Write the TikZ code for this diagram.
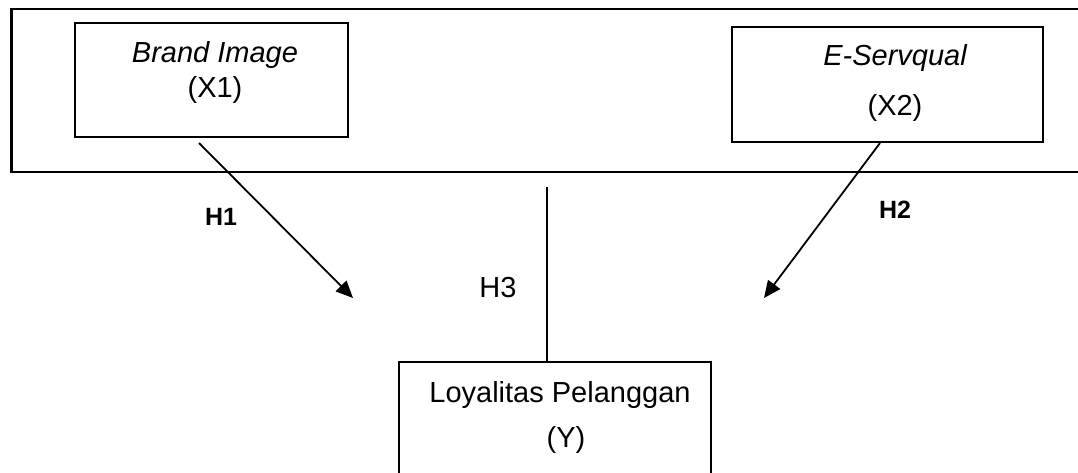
\documentclass[tikz,border=0pt]{standalone}
\usepackage{fontspec}
\setmainfont{Liberation Sans}
\usetikzlibrary{arrows.meta}
\begin{document}
\begin{tikzpicture}[x=1pt,y=-1pt,
  varbox/.style={draw,line width=2pt,inner sep=0pt,
    minimum width=#1},
  lbl/.style={font=\fontsize{29}{35}\selectfont,anchor=base,inner sep=0pt},
  hyp/.style={font=\fontsize{25}{30}\selectfont\bfseries,inner sep=0pt},
  link/.style={line width=1.8pt},
  arr/.style={link,-{Triangle[length=17pt,width=15pt]}}]
\useasboundingbox (0,0) rectangle (1078,472);
\clip (0,0) rectangle (1078,472);

% frame around the independent variables
\draw[line width=2.4pt] (11.5,9) rectangle (1120,172);

% variable boxes
\node[varbox=273pt,minimum height=114pt] (bi) at (211.5,80) {};
\node[varbox=311pt,minimum height=115pt] (es) at (887.5,84.5) {};
\node[varbox=312pt,minimum height=158pt] (ly) at (555,441) {};

% box texts
\node[lbl] (biname) at (215,62) {\itshape Brand Image};
\node[lbl] (bicode) at (215,97) {(X1)};
\node[lbl] (esname) at (895,65) {\itshape E-Servqual};
\node[lbl] (escode) at (895,115) {(X2)};
\node[lbl] (lyname) at (560,402) {Loyalitas Pelanggan};
\node[lbl] (lycode) at (566,447) {(Y)};

% hypothesis paths
\coordinate (h1s) at (199,143);
\coordinate (h1e) at (353,298);
\coordinate (h2s) at (880,143);
\coordinate (h2e) at (764,298);
\coordinate (h3s) at (547,187);
\draw[arr] (h1s) -- (h1e);
\draw[arr] (h2s) -- (h2e);
\draw[link] (h3s) -- (h3s |- ly.north);

% hypothesis labels
\node[hyp] (h1) at (221,217) {H1};
\node[hyp] (h2) at (895,210) {H2};
\node[font=\fontsize{29}{35}\selectfont,inner sep=0pt] (h3) at (498,288) {H3};
\end{tikzpicture}
\end{document}
